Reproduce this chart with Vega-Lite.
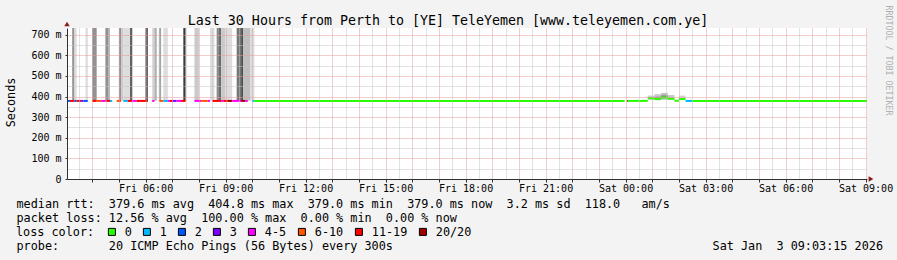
{
  "$schema": "https://vega.github.io/schema/vega-lite/v6.json",
  "width": 800,
  "height": 151,
  "autosize": {"type": "none"},
  "padding": {"left": 67, "top": 28, "right": 30, "bottom": 81},
  "background": "#f3f3f3",
  "view": {"fill": "#ffffff", "stroke": null},
  "config": {
    "font": "DejaVu Sans Mono",
    "axis": {"labelFont": "DejaVu Sans Mono", "titleFont": "DejaVu Sans Mono", "titleFontWeight": "normal", "titleColor": "#000000", "labelColor": "#000000"}
  },
  "datasets": {
    "smoke": [
      {"t0": "2026-01-02T03:15:00Z", "t1": "2026-01-02T03:20:00Z", "lo": 380, "hi": 900, "pings": 10},
      {"t0": "2026-01-02T03:20:00Z", "t1": "2026-01-02T03:25:00Z", "lo": 380, "hi": 900, "pings": 2},
      {"t0": "2026-01-02T03:45:00Z", "t1": "2026-01-02T03:50:00Z", "lo": 380, "hi": 900, "pings": 2},
      {"t0": "2026-01-02T04:00:00Z", "t1": "2026-01-02T04:10:00Z", "lo": 380, "hi": 900, "pings": 10},
      {"t0": "2026-01-02T04:30:00Z", "t1": "2026-01-02T04:35:00Z", "lo": 380, "hi": 900, "pings": 15},
      {"t0": "2026-01-02T04:35:00Z", "t1": "2026-01-02T04:40:00Z", "lo": 380, "hi": 900, "pings": 6},
      {"t0": "2026-01-02T05:00:00Z", "t1": "2026-01-02T05:05:00Z", "lo": 380, "hi": 900, "pings": 10},
      {"t0": "2026-01-02T05:05:00Z", "t1": "2026-01-02T05:10:00Z", "lo": 380, "hi": 900, "pings": 4},
      {"t0": "2026-01-02T05:10:00Z", "t1": "2026-01-02T05:25:00Z", "lo": 380, "hi": 900, "pings": 2},
      {"t0": "2026-01-02T05:25:00Z", "t1": "2026-01-02T05:30:00Z", "lo": 380, "hi": 900, "pings": 15},
      {"t0": "2026-01-02T06:00:00Z", "t1": "2026-01-02T06:05:00Z", "lo": 380, "hi": 900, "pings": 19},
      {"t0": "2026-01-02T06:15:00Z", "t1": "2026-01-02T06:20:00Z", "lo": 380, "hi": 900, "pings": 3},
      {"t0": "2026-01-02T06:20:00Z", "t1": "2026-01-02T06:25:00Z", "lo": 380, "hi": 900, "pings": 7},
      {"t0": "2026-01-02T06:30:00Z", "t1": "2026-01-02T06:35:00Z", "lo": 380, "hi": 900, "pings": 8},
      {"t0": "2026-01-02T06:40:00Z", "t1": "2026-01-02T06:50:00Z", "lo": 380, "hi": 900, "pings": 2},
      {"t0": "2026-01-02T07:25:00Z", "t1": "2026-01-02T07:30:00Z", "lo": 380, "hi": 900, "pings": 19},
      {"t0": "2026-01-02T07:50:00Z", "t1": "2026-01-02T08:00:00Z", "lo": 380, "hi": 900, "pings": 4},
      {"t0": "2026-01-02T08:25:00Z", "t1": "2026-01-02T08:35:00Z", "lo": 380, "hi": 900, "pings": 2},
      {"t0": "2026-01-02T08:40:00Z", "t1": "2026-01-02T08:45:00Z", "lo": 380, "hi": 900, "pings": 11},
      {"t0": "2026-01-02T08:45:00Z", "t1": "2026-01-02T08:50:00Z", "lo": 380, "hi": 900, "pings": 14},
      {"t0": "2026-01-02T08:50:00Z", "t1": "2026-01-02T09:00:00Z", "lo": 380, "hi": 900, "pings": 4},
      {"t0": "2026-01-02T09:00:00Z", "t1": "2026-01-02T09:15:00Z", "lo": 380, "hi": 900, "pings": 2},
      {"t0": "2026-01-02T09:25:00Z", "t1": "2026-01-02T09:35:00Z", "lo": 380, "hi": 900, "pings": 13},
      {"t0": "2026-01-02T09:35:00Z", "t1": "2026-01-02T09:40:00Z", "lo": 380, "hi": 900, "pings": 17},
      {"t0": "2026-01-02T09:40:00Z", "t1": "2026-01-02T09:55:00Z", "lo": 380, "hi": 900, "pings": 5},
      {"t0": "2026-01-02T09:55:00Z", "t1": "2026-01-02T10:05:00Z", "lo": 380, "hi": 900, "pings": 2},
      {"t0": "2026-01-03T00:50:00Z", "t1": "2026-01-03T01:05:00Z", "lo": 385, "hi": 405, "pings": 4},
      {"t0": "2026-01-03T01:05:00Z", "t1": "2026-01-03T01:20:00Z", "lo": 383, "hi": 412, "pings": 4},
      {"t0": "2026-01-03T01:05:00Z", "t1": "2026-01-03T01:20:00Z", "lo": 389, "hi": 400, "pings": 9},
      {"t0": "2026-01-03T01:20:00Z", "t1": "2026-01-03T01:35:00Z", "lo": 385, "hi": 418, "pings": 5},
      {"t0": "2026-01-03T01:20:00Z", "t1": "2026-01-03T01:35:00Z", "lo": 392, "hi": 406, "pings": 11},
      {"t0": "2026-01-03T01:35:00Z", "t1": "2026-01-03T01:50:00Z", "lo": 384, "hi": 408, "pings": 4},
      {"t0": "2026-01-03T02:00:00Z", "t1": "2026-01-03T02:15:00Z", "lo": 385, "hi": 405, "pings": 3}
    ],
    "median": [
      {"t0": "2026-01-02T03:00:00Z", "t1": "2026-01-02T03:10:00Z", "rtt": 379, "loss": "2"},
      {"t0": "2026-01-02T03:10:00Z", "t1": "2026-01-02T03:20:00Z", "rtt": 379, "loss": "11-19"},
      {"t0": "2026-01-02T03:20:00Z", "t1": "2026-01-02T03:25:00Z", "rtt": 379, "loss": "2"},
      {"t0": "2026-01-02T03:25:00Z", "t1": "2026-01-02T03:35:00Z", "rtt": 379, "loss": "11-19"},
      {"t0": "2026-01-02T03:35:00Z", "t1": "2026-01-02T03:40:00Z", "rtt": 379, "loss": "3"},
      {"t0": "2026-01-02T03:40:00Z", "t1": "2026-01-02T03:50:00Z", "rtt": 379, "loss": "2"},
      {"t0": "2026-01-02T04:00:00Z", "t1": "2026-01-02T04:10:00Z", "rtt": 379, "loss": "11-19"},
      {"t0": "2026-01-02T04:10:00Z", "t1": "2026-01-02T04:20:00Z", "rtt": 379, "loss": "6-10"},
      {"t0": "2026-01-02T04:20:00Z", "t1": "2026-01-02T04:30:00Z", "rtt": 379, "loss": "4-5"},
      {"t0": "2026-01-02T04:30:00Z", "t1": "2026-01-02T04:40:00Z", "rtt": 379, "loss": "11-19"},
      {"t0": "2026-01-02T04:40:00Z", "t1": "2026-01-02T04:45:00Z", "rtt": 379, "loss": "1"},
      {"t0": "2026-01-02T04:55:00Z", "t1": "2026-01-02T05:05:00Z", "rtt": 379, "loss": "6-10"},
      {"t0": "2026-01-02T05:10:00Z", "t1": "2026-01-02T05:20:00Z", "rtt": 379, "loss": "1"},
      {"t0": "2026-01-02T05:20:00Z", "t1": "2026-01-02T05:30:00Z", "rtt": 379, "loss": "11-19"},
      {"t0": "2026-01-02T05:30:00Z", "t1": "2026-01-02T05:40:00Z", "rtt": 379, "loss": "4-5"},
      {"t0": "2026-01-02T05:40:00Z", "t1": "2026-01-02T06:00:00Z", "rtt": 379, "loss": "11-19"},
      {"t0": "2026-01-02T06:00:00Z", "t1": "2026-01-02T06:05:00Z", "rtt": 379, "loss": "20/20"},
      {"t0": "2026-01-02T06:15:00Z", "t1": "2026-01-02T06:20:00Z", "rtt": 379, "loss": "4-5"},
      {"t0": "2026-01-02T06:30:00Z", "t1": "2026-01-02T06:40:00Z", "rtt": 379, "loss": "6-10"},
      {"t0": "2026-01-02T06:40:00Z", "t1": "2026-01-02T06:50:00Z", "rtt": 379, "loss": "1"},
      {"t0": "2026-01-02T06:50:00Z", "t1": "2026-01-02T06:55:00Z", "rtt": 379, "loss": "4-5"},
      {"t0": "2026-01-02T06:55:00Z", "t1": "2026-01-02T07:00:00Z", "rtt": 379, "loss": "11-19"},
      {"t0": "2026-01-02T07:00:00Z", "t1": "2026-01-02T07:10:00Z", "rtt": 379, "loss": "3"},
      {"t0": "2026-01-02T07:10:00Z", "t1": "2026-01-02T07:20:00Z", "rtt": 379, "loss": "4-5"},
      {"t0": "2026-01-02T07:20:00Z", "t1": "2026-01-02T07:30:00Z", "rtt": 379, "loss": "11-19"},
      {"t0": "2026-01-02T07:50:00Z", "t1": "2026-01-02T08:05:00Z", "rtt": 379, "loss": "4-5"},
      {"t0": "2026-01-02T08:05:00Z", "t1": "2026-01-02T08:20:00Z", "rtt": 379, "loss": "6-10"},
      {"t0": "2026-01-02T08:20:00Z", "t1": "2026-01-02T08:25:00Z", "rtt": 379, "loss": "4-5"},
      {"t0": "2026-01-02T08:30:00Z", "t1": "2026-01-02T08:50:00Z", "rtt": 379, "loss": "11-19"},
      {"t0": "2026-01-02T08:50:00Z", "t1": "2026-01-02T08:55:00Z", "rtt": 379, "loss": "4-5"},
      {"t0": "2026-01-02T08:55:00Z", "t1": "2026-01-02T09:05:00Z", "rtt": 379, "loss": "11-19"},
      {"t0": "2026-01-02T09:05:00Z", "t1": "2026-01-02T09:15:00Z", "rtt": 379, "loss": "20/20"},
      {"t0": "2026-01-02T09:15:00Z", "t1": "2026-01-02T09:35:00Z", "rtt": 379, "loss": "4-5"},
      {"t0": "2026-01-02T09:35:00Z", "t1": "2026-01-02T09:45:00Z", "rtt": 379, "loss": "20/20"},
      {"t0": "2026-01-02T09:45:00Z", "t1": "2026-01-02T09:50:00Z", "rtt": 379, "loss": "4-5"},
      {"t0": "2026-01-02T10:00:00Z", "t1": "2026-01-02T10:05:00Z", "rtt": 379, "loss": "1"},
      {"t0": "2026-01-02T10:05:00Z", "t1": "2026-01-02T23:58:00Z", "rtt": 379, "loss": "0"},
      {"t0": "2026-01-03T00:03:00Z", "t1": "2026-01-03T00:05:00Z", "rtt": 379, "loss": "20/20"},
      {"t0": "2026-01-03T00:05:00Z", "t1": "2026-01-03T00:50:00Z", "rtt": 379, "loss": "0"},
      {"t0": "2026-01-03T00:50:00Z", "t1": "2026-01-03T01:05:00Z", "rtt": 392, "loss": "0"},
      {"t0": "2026-01-03T01:05:00Z", "t1": "2026-01-03T01:20:00Z", "rtt": 388, "loss": "0"},
      {"t0": "2026-01-03T01:20:00Z", "t1": "2026-01-03T01:35:00Z", "rtt": 396, "loss": "0"},
      {"t0": "2026-01-03T01:35:00Z", "t1": "2026-01-03T01:50:00Z", "rtt": 390, "loss": "0"},
      {"t0": "2026-01-03T01:50:00Z", "t1": "2026-01-03T02:00:00Z", "rtt": 380, "loss": "0"},
      {"t0": "2026-01-03T02:00:00Z", "t1": "2026-01-03T02:15:00Z", "rtt": 388, "loss": "0"},
      {"t0": "2026-01-03T02:15:00Z", "t1": "2026-01-03T02:30:00Z", "rtt": 379, "loss": "1"},
      {"t0": "2026-01-03T02:30:00Z", "t1": "2026-01-03T09:10:00Z", "rtt": 379, "loss": "0"}
    ]
  },
  "layer": [
    {
      "data": {"name": "smoke"},
      "mark": {"type": "rect", "clip": true},
      "encoding": {
        "x": {
          "field": "t0", "type": "temporal",
          "scale": {"type": "utc", "nice": false, "domain": [{"year": 2026, "month": 1, "date": 2, "hours": 3, "minutes": 3, "seconds": 15, "utc": true}, {"year": 2026, "month": 1, "date": 3, "hours": 9, "minutes": 3, "seconds": 15, "utc": true}]},
          "axis": {
            "orient": "bottom", "zindex": 1,
            "tickCount": 60,
            "grid": true, "gridDash": [1, 1], "gridWidth": 1,
            "gridColor": {"condition": {"test": "utcminutes(datum.value) == 0", "value": "#e39a9a"}, "value": "#c4c4c4"},
            "domainColor": "#303030", "domainWidth": 1,
            "ticks": true, "tickSize": 3, "tickColor": "#303030",
            "tickOpacity": {"condition": {"test": "utcminutes(datum.value) == 0", "value": 1}, "value": 0},
            "labelExpr": "utchours(datum.value) % 3 == 0 && utcminutes(datum.value) == 0 ? utcFormat(datum.value, '%a %H:%M') : ''",
            "labelFont": "DejaVu Sans Mono", "labelFontSize": 10, "labelColor": "#000000", "labelBaseline": "alphabetic", "labelPadding": 9, "labelOverlap": false, "labelFlush": false, "labelBound": false,
            "title": ["median rtt:\u00a0\u00a0379.6 ms avg\u00a0\u00a0404.8 ms max\u00a0\u00a0379.0 ms min\u00a0\u00a0379.0 ms now\u00a0\u00a03.2 ms sd\u00a0\u00a0118.0\u00a0\u00a0\u00a0am/s", "packet loss: 12.56 % avg\u00a0\u00a0100.00 % max\u00a0\u00a00.00 % min\u00a0\u00a00.00 % now"],
            "titleFontSize": 11.8, "titleAlign": "left", "titleAnchor": "start", "titleBaseline": "alphabetic", "titleX": -51, "titleY": 28.5, "titleLineHeight": 14, "titleAngle": 0
          }
        },
        "x2": {"field": "t1"},
        "y": {
          "field": "lo", "type": "quantitative",
          "scale": {"domain": [0, 733], "nice": false, "zero": true},
          "axis": {
            "orient": "left", "zindex": 1,
            "values": [0, 50, 100, 150, 200, 250, 300, 350, 400, 450, 500, 550, 600, 650, 700],
            "grid": true, "gridDash": [1, 1], "gridWidth": 1,
            "gridColor": {"condition": {"test": "datum.value % 100 == 0", "value": "#e39a9a"}, "value": "#c4c4c4"},
            "domainColor": "#303030", "domainWidth": 1,
            "ticks": true, "tickSize": 2, "tickColor": "#303030",
            "tickOpacity": {"condition": {"test": "datum.value % 100 == 0", "value": 1}, "value": 0},
            "labelExpr": "datum.value % 100 != 0 ? '' : (datum.value == 0 ? '0\u00a0\u00a0' : datum.value + ' m')",
            "labelFont": "DejaVu Sans Mono", "labelFontSize": 10, "labelColor": "#000000", "labelPadding": 4, "labelOverlap": false, "labelBound": false, "labelFlush": false,
            "title": "Seconds", "titleFontSize": 11.8, "titleAngle": 270, "titleX": -53, "titleY": 74, "titleAlign": "center", "titleBaseline": "alphabetic"
          }
        },
        "y2": {"field": "hi"},
        "fill": {"field": "pings", "type": "quantitative", "scale": {"domain": [1, 20], "range": ["#e6e6e6", "#333333"], "interpolate": "rgb"}, "legend": null}
      }
    },
    {
      "data": {"name": "median"},
      "mark": {"type": "rule", "clip": true, "strokeCap": "butt"},
      "encoding": {
        "x": {"field": "t0", "type": "temporal", "scale": {"type": "utc", "nice": false, "domain": [{"year": 2026, "month": 1, "date": 2, "hours": 3, "minutes": 3, "seconds": 15, "utc": true}, {"year": 2026, "month": 1, "date": 3, "hours": 9, "minutes": 3, "seconds": 15, "utc": true}]}, "axis": null},
        "x2": {"field": "t1"},
        "y": {"field": "rtt", "type": "quantitative", "scale": {"domain": [0, 733], "nice": false, "zero": true}, "axis": null},
        "stroke": {
          "field": "loss", "type": "nominal",
          "scale": {"domain": ["20/20", "11-19", "6-10", "4-5", "3", "2", "1", "0"], "range": ["#a10000", "#ff0000", "#ff5500", "#ff00ff", "#7e00ff", "#0059ff", "#00b8ff", "#26ff00"]},
          "legend": null
        },
        "strokeWidth": {"value": 2}
      }
    },
    {
      "data": {"name": "median"},
      "mark": {"type": "square", "size": 0, "clip": true},
      "encoding": {
        "x": {"field": "t0", "type": "temporal", "scale": {"type": "utc", "nice": false, "domain": [{"year": 2026, "month": 1, "date": 2, "hours": 3, "minutes": 3, "seconds": 15, "utc": true}, {"year": 2026, "month": 1, "date": 3, "hours": 9, "minutes": 3, "seconds": 15, "utc": true}]}, "axis": null},
        "y": {"field": "rtt", "type": "quantitative", "scale": {"domain": [0, 733], "nice": false, "zero": true}, "axis": null},
        "color": {
          "field": "loss", "type": "nominal",
          "scale": {"domain": ["0", "1", "2", "3", "4-5", "6-10", "11-19", "20/20"], "range": ["#26ff00", "#00b8ff", "#0059ff", "#7e00ff", "#ff00ff", "#ff5500", "#ff0000", "#a10000"]},
          "legend": {
            "title": "loss color:", "orient": "none", "legendX": -51, "legendY": 198, "direction": "horizontal",
            "titleOrient": "left", "titleFont": "DejaVu Sans Mono", "titleFontSize": 11.8, "titleFontWeight": "normal", "titleColor": "#000000", "titlePadding": 11,
            "labelFont": "DejaVu Sans Mono", "labelFontSize": 11.8, "labelColor": "#000000", "labelOffset": 7,
            "symbolType": "square", "symbolSize": 49, "symbolStrokeColor": "#000000", "symbolStrokeWidth": 1, "symbolOpacity": 1,
            "columnPadding": 9, "padding": 0, "rowPadding": 0, "gridAlign": "none"
          }
        }
      }
    },
    {
      "data": {"values": [{}]},
      "mark": {"type": "point", "shape": "triangle-right", "filled": true, "size": 30, "color": "#8b1a1a", "opacity": 1, "xOffset": 4},
      "encoding": {
        "x": {
          "datum": {"year": 2026, "month": 1, "date": 3, "hours": 9, "minutes": 3, "seconds": 15, "utc": true}, "type": "temporal",
          "scale": {"type": "utc", "nice": false, "domain": [{"year": 2026, "month": 1, "date": 2, "hours": 3, "minutes": 3, "seconds": 15, "utc": true}, {"year": 2026, "month": 1, "date": 3, "hours": 9, "minutes": 3, "seconds": 15, "utc": true}]},
          "axis": {"orient": "top", "labels": false, "ticks": false, "domain": false, "grid": false, "title": "Last 30 Hours from Perth to [YE] TeleYemen [www.teleyemen.com.ye]", "titleFontSize": 13.3, "titleX": 380.5, "titleY": -4, "titleAlign": "center", "titleBaseline": "alphabetic", "titleAngle": 0}
        },
        "y": {
          "datum": 0, "type": "quantitative",
          "scale": {"domain": [0, 733], "nice": false, "zero": true},
          "axis": {"orient": "right", "labels": false, "ticks": false, "domain": false, "grid": false, "title": "RRDTOOL / TOBI OETIKER", "titleFontSize": 8.3, "titleColor": "#b0b0b0", "titleAngle": 90, "titleX": 18, "titleY": 32, "titleAlign": "center", "titleBaseline": "alphabetic"}
        }
      }
    },
    {
      "data": {"values": [{}]},
      "mark": {"type": "point", "shape": "triangle-up", "filled": true, "size": 30, "color": "#8b1a1a", "opacity": 1, "yOffset": -4},
      "encoding": {
        "x": {
          "datum": {"year": 2026, "month": 1, "date": 2, "hours": 3, "minutes": 3, "seconds": 15, "utc": true}, "type": "temporal",
          "scale": {"type": "utc", "nice": false, "domain": [{"year": 2026, "month": 1, "date": 2, "hours": 3, "minutes": 3, "seconds": 15, "utc": true}, {"year": 2026, "month": 1, "date": 3, "hours": 9, "minutes": 3, "seconds": 15, "utc": true}]},
          "axis": {"orient": "bottom", "labels": false, "ticks": false, "domain": false, "grid": false, "title": "probe:\u00a0\u00a0\u00a0\u00a0\u00a0\u00a0\u00a020 ICMP Echo Pings (56 Bytes) every 300s\u00a0\u00a0\u00a0\u00a0\u00a0\u00a0\u00a0\u00a0\u00a0\u00a0\u00a0\u00a0\u00a0\u00a0\u00a0\u00a0\u00a0\u00a0\u00a0\u00a0\u00a0\u00a0\u00a0\u00a0\u00a0\u00a0\u00a0\u00a0\u00a0\u00a0\u00a0\u00a0\u00a0\u00a0\u00a0\u00a0\u00a0\u00a0\u00a0\u00a0\u00a0\u00a0\u00a0\u00a0\u00a0Sat Jan\u00a0\u00a03 09:03:15 2026", "titleFontSize": 11.8, "titleX": -51, "titleY": 70.5, "titleAlign": "left", "titleBaseline": "alphabetic", "titleAngle": 0}
        },
        "y": {"datum": 733, "type": "quantitative", "scale": {"domain": [0, 733], "nice": false, "zero": true}, "axis": null}
      }
    }
  ],
  "resolve": {"axis": {"x": "independent", "y": "independent"}}
}
